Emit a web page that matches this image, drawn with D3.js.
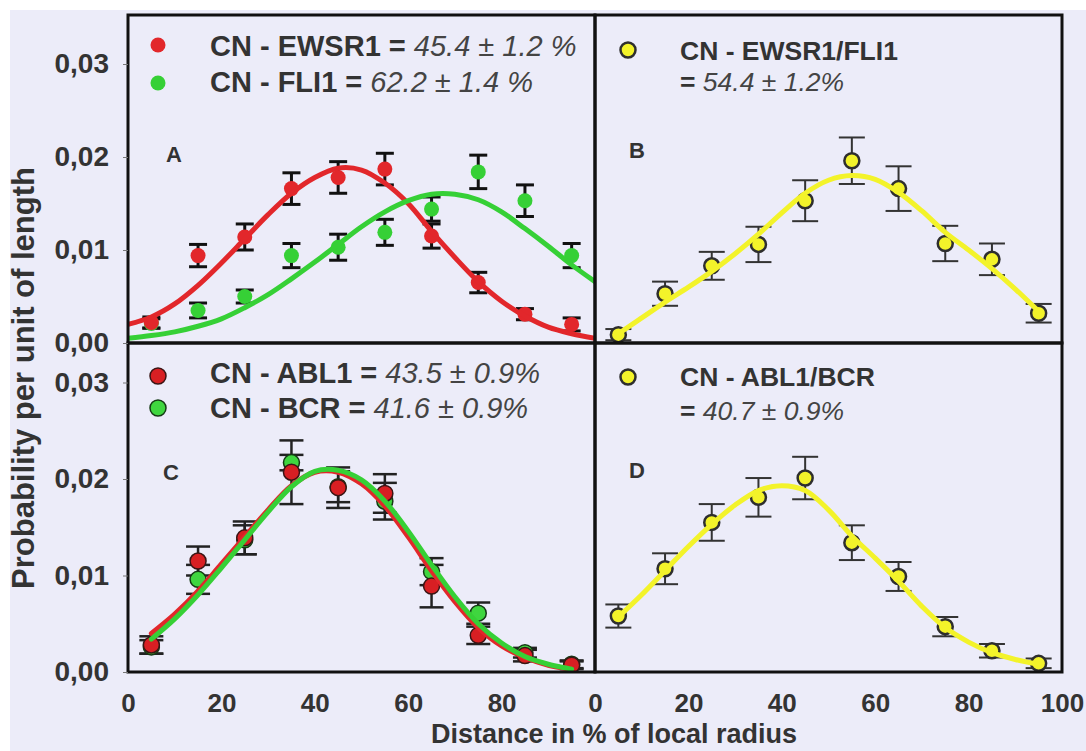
<!DOCTYPE html>
<html>
<head>
<meta charset="utf-8">
<script src="https://cdn.jsdelivr.net/npm/d3@7"></script>
<style>
  body { margin: 0; background: #fff; }
  svg { display: block; }
  text { font-family: "Liberation Sans", Arial, sans-serif; }
</style>
</head>
<body>
<script>
// ---- data ----
const xBins = [5, 15, 25, 35, 45, 55, 65, 75, 85, 95];

// A: CN - EWSR1 (red) and CN - FLI1 (green)
const ewsr1    = [0.0022, 0.0094, 0.0114, 0.0166, 0.0178, 0.0187, 0.0115, 0.0065, 0.0031, 0.0020];
const ewsr1Err = [0.0006, 0.0012, 0.0014, 0.0017, 0.0017, 0.0017, 0.0013, 0.0011, 0.0006, 0.0007];
const fli1     = [0.0021, 0.0035, 0.0050, 0.0094, 0.0103, 0.0119, 0.0144, 0.0184, 0.0153, 0.0094];
const fli1Err  = [0.0005, 0.0008, 0.0007, 0.0013, 0.0014, 0.0014, 0.0013, 0.0018, 0.0017, 0.0013];

// B: CN - EWSR1/FLI1
const ewsrFli    = [0.0009, 0.0053, 0.0083, 0.0106, 0.0153, 0.0196, 0.0166, 0.0107, 0.0090, 0.0032];
const ewsrFliErr = [0.0006, 0.0013, 0.0015, 0.0019, 0.0022, 0.0025, 0.0024, 0.0019, 0.0017, 0.0010];

// C: CN - ABL1 (red) and CN - BCR (green)
const abl1    = [0.0028, 0.0115, 0.0139, 0.0207, 0.0191, 0.0185, 0.0089, 0.0038, 0.0017, 0.0007];
const abl1Err = [0.0009, 0.0015, 0.0017, 0.0033, 0.0021, 0.0020, 0.0022, 0.0009, 0.0006, 0.0004];
const bcr     = [0.0026, 0.0096, 0.0137, 0.0217, 0.0192, 0.0177, 0.0104, 0.0061, 0.0020, 0.0008];
const bcrErr  = [0.0007, 0.0015, 0.0015, 0.0008, 0.0016, 0.0019, 0.0014, 0.0011, 0.0005, 0.0004];

// D: CN - ABL1/BCR
const ablBcr    = [0.0058, 0.0107, 0.0155, 0.0181, 0.0201, 0.0134, 0.0099, 0.0047, 0.0022, 0.0009];
const ablBcrErr = [0.0012, 0.0016, 0.0019, 0.0020, 0.0022, 0.0018, 0.0015, 0.0010, 0.0007, 0.0005];

// fitted curves, read every 5 %
const fitXFull  = [0, 5, 10, 15, 20, 25, 30, 35, 40, 45, 50, 55, 60, 65, 70, 75, 80, 85, 90, 95, 100];
const fitXInner = [5, 10, 15, 20, 25, 30, 35, 40, 45, 50, 55, 60, 65, 70, 75, 80, 85, 90, 95];

const ewsr1Fit   = [0.0020, 0.0028, 0.0042, 0.0062, 0.0086, 0.0112, 0.0138, 0.0161, 0.0178, 0.0188, 0.0186,
                    0.0172, 0.0150, 0.0120, 0.0092, 0.0066, 0.0045, 0.0029, 0.0017, 0.0010, 0.0005];
const fli1Fit    = [0.0005, 0.0008, 0.0012, 0.0018, 0.0026, 0.0038, 0.0052, 0.0069, 0.0087, 0.0106, 0.0125,
                    0.0141, 0.0153, 0.0160, 0.0160, 0.0154, 0.0141, 0.0123, 0.0104, 0.0084, 0.0066];
const ewsrFliFit = [0.0010, 0.0027, 0.0044, 0.0060, 0.0077, 0.0096, 0.0117, 0.0140, 0.0161, 0.0175,
                    0.0180, 0.0176, 0.0162, 0.0142, 0.0119, 0.0100, 0.0080, 0.0058, 0.0034];
const abl1Fit    = [0.0040, 0.0060, 0.0084, 0.0112, 0.0140, 0.0168, 0.0193, 0.0207, 0.0207, 0.0195,
                    0.0172, 0.0140, 0.0105, 0.0073, 0.0046, 0.0027, 0.0015, 0.0007, 0.0003];
const bcrFit     = [0.0034, 0.0055, 0.0080, 0.0108, 0.0137, 0.0166, 0.0192, 0.0208, 0.0209, 0.0199,
                    0.0177, 0.0146, 0.0111, 0.0078, 0.0050, 0.0030, 0.0016, 0.0008, 0.0003];
const ablBcrFit  = [0.0057, 0.0080, 0.0105, 0.0130, 0.0153, 0.0173, 0.0188, 0.0193, 0.0188, 0.0168,
                    0.0141, 0.0118, 0.0094, 0.0068, 0.0046, 0.0031, 0.0020, 0.0013, 0.0008];

const yTicks = [0, 0.01, 0.02, 0.03];
const xTicksLeft  = [0, 20, 40, 60, 80];
const xTicksRight = [0, 20, 40, 60, 80, 100];

// ---- colours ----
const RED = '#e2272b', GREEN = '#36d036', YELLOW = '#f3f32a';
const INK = '#333';

const W = 1086, H = 751;
const svg = d3.select('body').append('svg').attr('width', W).attr('height', H);

svg.append('rect').attr('width', W).attr('height', H).attr('fill', '#fff');
svg.append('rect').attr('x', 10).attr('y', 10).attr('width', W - 10).attr('height', H - 10).attr('fill', '#ececf9');

// one x scale per column, one y scale per row
const xScales = [
  d3.scaleLinear().domain([0, 100]).range([128, 595]),
  d3.scaleLinear().domain([0, 100]).range([595, 1062])
];
const yScales = [
  d3.scaleLinear().domain([0, 0.01]).range([343, 250]),
  d3.scaleLinear().domain([0, 0.01]).range([672, 575.5])
];
const rowTop = [15, 343];

const panels = [
  { key: 'A', col: 0, row: 0, letter: [174, 162],
    points: [
      { vals: fli1,  err: fli1Err,  fill: GREEN, stroke: 'none', sw: 0, r: 7.5 },
      { vals: ewsr1, err: ewsr1Err, fill: RED,   stroke: 'none', sw: 0, r: 7.5 }
    ],
    bar: { half: 9, width: 3, color: '#111' },
    fits: [
      { x: fitXFull, vals: ewsr1Fit, color: RED },
      { x: fitXFull, vals: fli1Fit,  color: GREEN }
    ] },
  { key: 'B', col: 1, row: 0, letter: [637, 158],
    points: [ { vals: ewsrFli, err: ewsrFliErr, fill: YELLOW, stroke: '#2e2e2e', sw: 2.5, r: 7.5 } ],
    bar: { half: 13, width: 2, color: '#333' },
    fits: [ { x: fitXInner, vals: ewsrFliFit, color: YELLOW } ] },
  { key: 'C', col: 0, row: 1, letter: [171, 480],
    points: [
      { vals: bcr,  err: bcrErr,  fill: '#3fd63f', stroke: '#153a15', sw: 1.5, r: 8 },
      { vals: abl1, err: abl1Err, fill: '#d81f23', stroke: '#3a1515', sw: 1.5, r: 8 }
    ],
    bar: { half: 12, width: 2.5, color: '#222' },
    fits: [
      { x: fitXInner, vals: abl1Fit, color: RED },
      { x: fitXInner, vals: bcrFit,  color: GREEN }
    ] },
  { key: 'D', col: 1, row: 1, letter: [637, 478],
    points: [ { vals: ablBcr, err: ablBcrErr, fill: YELLOW, stroke: '#2e2e2e', sw: 2.5, r: 7.5 } ],
    bar: { half: 13, width: 2, color: '#333' },
    fits: [ { x: fitXInner, vals: ablBcrFit, color: YELLOW } ] }
];

const defs = svg.append('defs');

panels.forEach(p => {
  const x = xScales[p.col], y = yScales[p.row];
  const [x0, x1] = x.range();
  const top = rowTop[p.row], bottom = y(0);

  defs.append('clipPath').attr('id', 'clip' + p.key)
    .append('rect').attr('x', x0).attr('y', top).attr('width', x1 - x0).attr('height', bottom - top);

  const g = svg.append('g').attr('clip-path', `url(#clip${p.key})`);

  // error bars first, then markers, fitted curves on top
  p.points.forEach(s => {
    const bars = g.append('g').attr('stroke', p.bar.color).attr('stroke-width', p.bar.width);
    xBins.forEach((b, i) => {
      const lo = y(s.vals[i] - s.err[i]), hi = y(s.vals[i] + s.err[i]);
      bars.append('line').attr('x1', x(b)).attr('x2', x(b)).attr('y1', lo).attr('y2', hi);
      bars.append('line').attr('x1', x(b) - p.bar.half).attr('x2', x(b) + p.bar.half).attr('y1', lo).attr('y2', lo);
      bars.append('line').attr('x1', x(b) - p.bar.half).attr('x2', x(b) + p.bar.half).attr('y1', hi).attr('y2', hi);
    });
  });

  p.points.forEach(s => {
    g.append('g').selectAll('circle')
      .data(s.vals)
      .enter()
      .append('circle')
      .attr('cx', (d, i) => x(xBins[i]))
      .attr('cy', d => y(d))
      .attr('r', s.r)
      .attr('fill', s.fill)
      .attr('stroke', s.stroke)
      .attr('stroke-width', s.sw);
  });

  p.fits.forEach(f => {
    const line = d3.line()
      .x((d, i) => x(f.x[i]))
      .y(d => y(d))
      .curve(d3.curveCatmullRom);
    g.append('path')
      .attr('d', line(f.vals))
      .attr('fill', 'none')
      .attr('stroke', f.color)
      .attr('stroke-width', 5)
      .attr('stroke-linecap', 'round');
  });

  // panel letter
  svg.append('text')
    .attr('x', p.letter[0]).attr('y', p.letter[1])
    .attr('text-anchor', 'middle')
    .attr('font-size', 22).attr('font-weight', 'bold').attr('fill', INK)
    .text(p.key);

  // frame
  svg.append('rect')
    .attr('x', x0).attr('y', top).attr('width', x1 - x0).attr('height', bottom - top)
    .attr('fill', 'none').attr('stroke', '#111').attr('stroke-width', 3);
});

// ---- axes ----
const fmt = d => d3.format('.2f')(d).replace('.', ',');

yScales.forEach(y => {
  const ax = svg.append('g')
    .attr('transform', 'translate(128,0)')
    .call(d3.axisLeft(y).tickValues(yTicks).tickSize(5).tickPadding(14).tickFormat(fmt));
  ax.select('.domain').remove();
  ax.selectAll('line').attr('stroke', '#777');
  ax.selectAll('text').attr('font-size', 28).attr('font-weight', 'bold').attr('fill', INK)
    .attr('font-family', '"Liberation Sans", Arial, sans-serif');
});

[[xScales[0], xTicksLeft], [xScales[1], xTicksRight]].forEach(([x, ticks]) => {
  const ax = svg.append('g')
    .attr('transform', 'translate(0,672)')
    .call(d3.axisBottom(x).tickValues(ticks).tickSize(0).tickPadding(22));
  ax.select('.domain').remove();
  ax.selectAll('text').attr('font-size', 26).attr('font-weight', 'bold').attr('fill', INK)
    .attr('font-family', '"Liberation Sans", Arial, sans-serif');
});

svg.append('text')
  .attr('x', 614).attr('y', 743)
  .attr('text-anchor', 'middle')
  .attr('font-size', 27).attr('font-weight', 'bold').attr('fill', INK)
  .text('Distance in % of local radius');

svg.append('text')
  .attr('transform', 'translate(34,378) rotate(-90)')
  .attr('text-anchor', 'middle')
  .attr('font-size', 31).attr('font-weight', 'bold').attr('fill', INK)
  .text('Probability per unit of length');

// ---- legends ----
function legendRow(x, y, size, plain, italic) {
  const t = svg.append('text').attr('x', x).attr('y', y).attr('font-size', size).attr('fill', INK);
  t.append('tspan').attr('font-weight', 'bold').text(plain);
  if (italic) t.append('tspan').attr('font-style', 'italic').attr('fill', '#444').text(italic);
}
function legendDot(cx, cy, fill, stroke, sw, r) {
  svg.append('circle').attr('cx', cx).attr('cy', cy).attr('r', r)
    .attr('fill', fill).attr('stroke', stroke).attr('stroke-width', sw);
}

legendDot(158, 45, RED, 'none', 0, 7.5);
legendDot(158, 83, GREEN, 'none', 0, 7.5);
legendRow(210, 56, 29, 'CN - EWSR1 = ', '45.4 \u00b1 1.2 %');
legendRow(210, 92, 29, 'CN - FLI1 = ', '62.2 \u00b1 1.4 %');

legendDot(628, 50, YELLOW, '#2e2e2e', 2.5, 7.5);
legendRow(680, 60, 26.5, 'CN  - EWSR1/FLI1');
legendRow(680, 91, 26.5, '= ', '54.4 \u00b1 1.2%');

legendDot(158, 376, '#d81f23', '#3a1515', 1.5, 8);
legendDot(158, 408, '#3fd63f', '#153a15', 1.5, 8);
legendRow(210, 383, 29, 'CN - ABL1 = ', '43.5 \u00b1 0.9%');
legendRow(210, 418, 29, 'CN - BCR = ', '41.6 \u00b1 0.9%');

legendDot(628, 377, YELLOW, '#2e2e2e', 2.5, 7.5);
legendRow(680, 386, 26.5, 'CN - ABL1/BCR');
legendRow(680, 420, 26.5, '= ', '40.7 \u00b1 0.9%');
</script>
</body>
</html>
